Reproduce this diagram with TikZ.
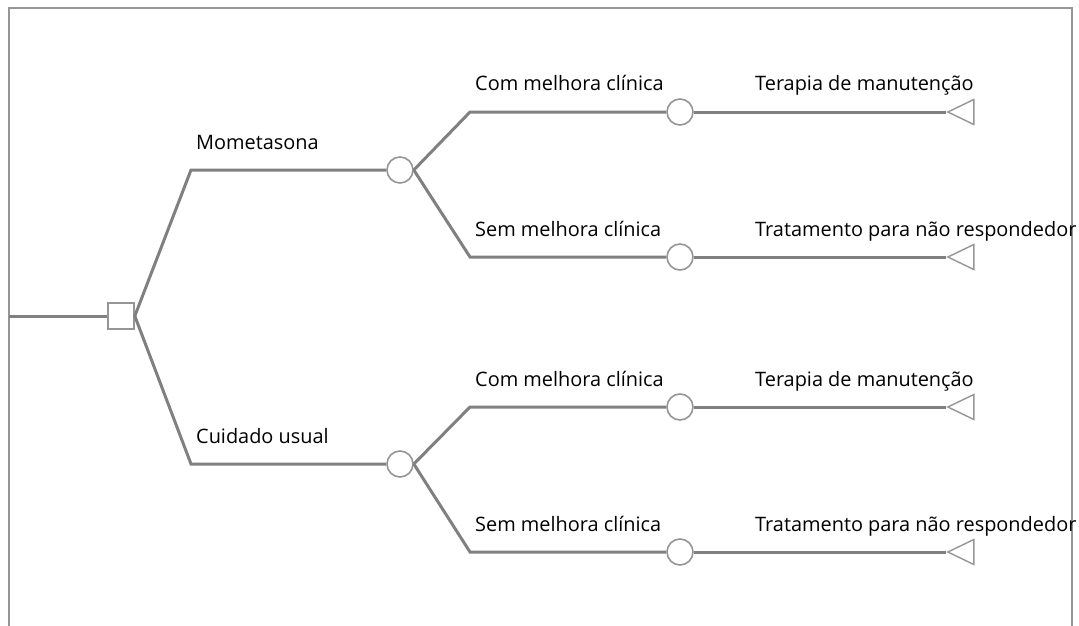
\documentclass[tikz,border=0pt]{standalone}
\usepackage{fontspec}
\setmainfont{Open Sans}
\usepackage{tikz}
\usetikzlibrary{shapes.geometric}
\definecolor{ramo}{RGB}{128,128,128}
\definecolor{borda}{RGB}{150,150,150}
\tikzstyle{ramo} = [draw=ramo, line width=3pt]
\tikzstyle{decisao} = [draw=borda, fill=white, line width=1.6pt, rectangle, minimum size=26pt, inner sep=0pt]
\tikzstyle{acaso} = [draw=borda, fill=white, line width=1.6pt, circle, minimum size=26pt, inner sep=0pt]
\tikzstyle{final} = [draw=borda, fill=white, line width=1.4pt, isosceles triangle, isosceles triangle stretches, shape border rotate=180, minimum width=25pt, minimum height=26pt, inner sep=0pt, anchor=apex]
\tikzstyle{rotulo} = [anchor=base west, inner sep=0pt, font=\fontsize{19.9}{22}\selectfont]

\begin{document}
\begin{tikzpicture}[x=1pt,y=-1pt]
		\useasboundingbox (0,0) rectangle (1079,626);
		\draw[borda, line width=1.5pt] (9,626) -- (9,8) -- (1072,8) -- (1072,626);

		% nos
		\coordinate (ini) at (9,316);
		\node[decisao] (dec) at (121,316) {};
		\node[acaso] (mom) at (400,170) {};
		\node[acaso] (cui) at (400,464) {};
		\node[acaso] (mcom) at (680,112) {};
		\node[acaso] (msem) at (680,257) {};
		\node[acaso] (ccom) at (680,407) {};
		\node[acaso] (csem) at (680,552) {};
		\node[final] (tmcom) at (946,112) {};
		\node[final] (tmsem) at (946,257) {};
		\node[final] (tccom) at (946,407) {};
		\node[final] (tcsem) at (946,552) {};

		% ramos
		\draw[ramo] (ini) -- (dec.west);
		\draw[ramo] (dec.east) -- (191,170) -- (mom.west);
		\draw[ramo] (dec.east) -- (191,464) -- (cui.west);
		\draw[ramo] (mom.east) -- (470,112) -- (mcom.west);
		\draw[ramo] (mom.east) -- (470,257) -- (msem.west);
		\draw[ramo] (cui.east) -- (470,407) -- (ccom.west);
		\draw[ramo] (cui.east) -- (470,552) -- (csem.west);
		\draw[ramo] (mcom.east) -- (tmcom.apex);
		\draw[ramo] (msem.east) -- (tmsem.apex);
		\draw[ramo] (ccom.east) -- (tccom.apex);
		\draw[ramo] (csem.east) -- (tcsem.apex);

		% rotulos
		\node[rotulo] (lmom) at (196,149) {Mometasona};
		\node[rotulo] (lcui) at (196,443) {Cuidado usual};
		\node[rotulo] (lmcom) at (475,91) {Com melhora clínica};
		\node[rotulo] (lmsem) at (475,236) {Sem melhora clínica};
		\node[rotulo] (lccom) at (475,386) {Com melhora clínica};
		\node[rotulo] (lcsem) at (475,531) {Sem melhora clínica};
		\node[rotulo] (ltmcom) at (755,91) {Terapia de manutenção};
		\node[rotulo] (ltmsem) at (755,236) {Tratamento para não respondedor};
		\node[rotulo] (ltccom) at (755,386) {Terapia de manutenção};
		\node[rotulo] (ltcsem) at (755,531) {Tratamento para não respondedor};
	\end{tikzpicture}
\end{document}
